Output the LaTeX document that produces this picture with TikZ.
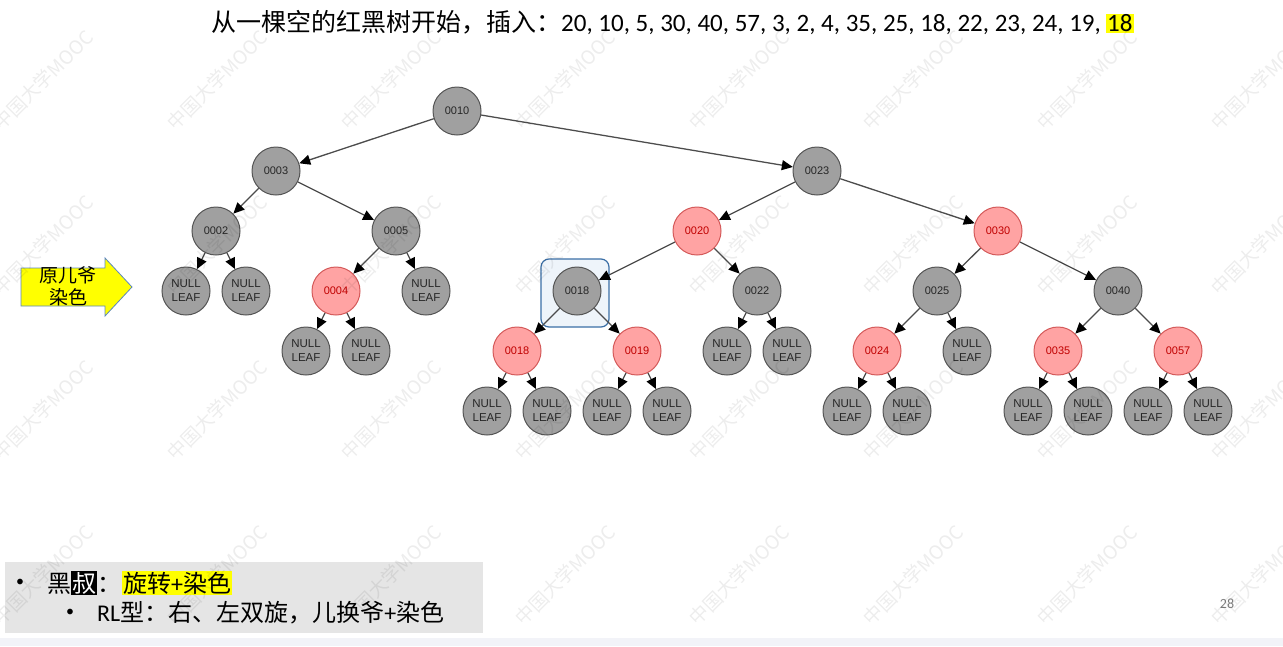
\documentclass[tikz,border=0pt]{standalone}
\usepackage{fontspec}
\setmainfont{Carlito}
\newfontfamily\cjk{Noto Sans CJK SC}
\newfontfamily\helv{Liberation Sans}
\usetikzlibrary{arrows.meta,backgrounds}
\definecolor{ngray}{HTML}{A0A0A0}
\definecolor{nborder}{HTML}{555555}
\definecolor{rfill}{HTML}{FFA3A3}
\definecolor{rborder}{HTML}{D45A5A}
\definecolor{rtext}{HTML}{C00000}
\definecolor{boxblue}{HTML}{3B6FA6}
\definecolor{boxfill}{HTML}{EEF4FA}
\definecolor{arrowblue}{HTML}{5B86C0}
\definecolor{panel}{HTML}{E5E5E5}
\definecolor{strip}{HTML}{F2F3F8}
\definecolor{hlyellow}{HTML}{FFFF00}
\tikzset{
  bnode/.style={circle, minimum size=48pt, inner sep=0pt, fill=ngray, draw=nborder, line width=1pt,
    font=\helv\fontsize{11}{12}\selectfont, align=center, text=black!85},
  rnode/.style={bnode, fill=rfill, draw=rborder, text=rtext},
  leaf/.style={bnode, font=\helv\fontsize{11.5}{14}\selectfont},
  edge/.style={draw=black!70, line width=1.3pt, -{Triangle[length=11pt,width=10pt,color=black]}},
  wmark/.style={rotate=45, text=black, text opacity=0.07, font=\cjk\fontsize{19}{19}\selectfont, inner sep=0pt}
}
\begin{document}
\begin{tikzpicture}[x=1pt,y=-1pt]
\useasboundingbox (0,0) rectangle (1283,646);
\fill[white] (0,0) rectangle (1283,646);
\fill[strip] (0,638) rectangle (1283,646);

% title
\node[anchor=west, inner sep=0pt, font=\fontsize{25}{30}\selectfont] (title) at (211,23)
  {{\cjk 从一棵空的红黑树开始，插入：}20, 10, 5, 30, 40, 57, 3, 2, 4, 35, 25, 18, 22, 23, 24, 19, {\setlength{\fboxsep}{1pt}\colorbox{hlyellow}{18}}};

% yellow arrow
\draw[fill=hlyellow, draw=arrowblue, line width=0.8pt]
  (21,268) -- (105,268) -- (105,258) -- (132,287) -- (105,316) -- (105,306) -- (21,306) -- cycle;
\node[font=\cjk\fontsize{19}{22}\selectfont, align=center, inner sep=0pt] (arrtxt) at (68,286) {原儿爷\\染色};

% highlight box
\node[draw=boxblue, fill=boxfill, rounded corners=8pt, minimum width=68pt, minimum height=68pt,
  line width=1.2pt, inner sep=0pt] (hl) at (575,293) {};

% nodes
\node[bnode] (n10) at (457,111) {0010};
\node[bnode] (n3) at (276,171) {0003};
\node[bnode] (n23) at (817,171) {0023};
\node[bnode] (n2) at (216,231) {0002};
\node[bnode] (n5) at (396,231) {0005};
\node[rnode] (n20) at (697,231) {0020};
\node[rnode] (n30) at (998,231) {0030};
\node[leaf] (l2a) at (186,291) {NULL\\LEAF};
\node[leaf] (l2b) at (246,291) {NULL\\LEAF};
\node[rnode] (n4) at (336,291) {0004};
\node[leaf] (l5b) at (426,291) {NULL\\LEAF};
\node[bnode] (n18) at (577,291) {0018};
\node[bnode] (n22) at (757,291) {0022};
\node[bnode] (n25) at (937,291) {0025};
\node[bnode] (n40) at (1118,291) {0040};
\node[leaf] (l4a) at (306,351) {NULL\\LEAF};
\node[leaf] (l4b) at (366,351) {NULL\\LEAF};
\node[rnode] (n18r) at (517,351) {0018};
\node[rnode] (n19) at (637,351) {0019};
\node[leaf] (l22a) at (727,351) {NULL\\LEAF};
\node[leaf] (l22b) at (787,351) {NULL\\LEAF};
\node[rnode] (n24) at (877,351) {0024};
\node[leaf] (l25b) at (967,351) {NULL\\LEAF};
\node[rnode] (n35) at (1058,351) {0035};
\node[rnode] (n57) at (1178,351) {0057};
\node[leaf] (l18a) at (487,411) {NULL\\LEAF};
\node[leaf] (l18b) at (547,411) {NULL\\LEAF};
\node[leaf] (l19a) at (607,411) {NULL\\LEAF};
\node[leaf] (l19b) at (667,411) {NULL\\LEAF};
\node[leaf] (l24a) at (847,411) {NULL\\LEAF};
\node[leaf] (l24b) at (907,411) {NULL\\LEAF};
\node[leaf] (l35a) at (1028,411) {NULL\\LEAF};
\node[leaf] (l35b) at (1088,411) {NULL\\LEAF};
\node[leaf] (l57a) at (1148,411) {NULL\\LEAF};
\node[leaf] (l57b) at (1208,411) {NULL\\LEAF};

% edges
\foreach \a/\b in {n10/n3, n10/n23, n3/n2, n3/n5, n23/n20, n23/n30,
  n2/l2a, n2/l2b, n5/n4, n5/l5b, n20/n18, n20/n22, n30/n25, n30/n40,
  n4/l4a, n4/l4b, n18/n18r, n18/n19, n22/l22a, n22/l22b, n25/n24, n25/l25b, n40/n35, n40/n57,
  n18r/l18a, n18r/l18b, n19/l19a, n19/l19b, n24/l24a, n24/l24b, n35/l35a, n35/l35b, n57/l57a, n57/l57b}
  \draw[edge] (\a) -- (\b);

% bottom panel
\fill[panel] (5,562) rectangle (483,633);
\node[anchor=west, inner sep=0pt, font=\fontsize{16}{18}\selectfont] (bul1) at (16,583) {•};
\node[anchor=west, inner sep=0pt, font=\cjk\fontsize{24}{28}\selectfont] (line1) at (47,583)
  {黑{\setlength{\fboxsep}{1pt}\colorbox{black}{\textcolor{white}{叔}}}：\hspace{1pt}{\setlength{\fboxsep}{1pt}\colorbox{hlyellow}{旋转{\rmfamily +}染色}}};
\node[anchor=west, inner sep=0pt, font=\fontsize{16}{18}\selectfont] (bul2) at (66,613) {•};
\node[anchor=west, inner sep=0pt, font=\fontsize{24}{28}\selectfont] (line2) at (97,613)
  {RL{\cjk 型：右、左双旋，儿换爷}+{\cjk 染色}};
\node[text=black!50, font=\fontsize{14}{16}\selectfont, inner sep=0pt] (pg) at (1227,604) {28};

% watermark
\foreach \i in {0,...,7}
  \foreach \j in {0,...,3}
    \node[wmark] (wm\i\j) at ({43+174*\i},{80+165*\j}) {中国大学MOOC};
\end{tikzpicture}
\end{document}
